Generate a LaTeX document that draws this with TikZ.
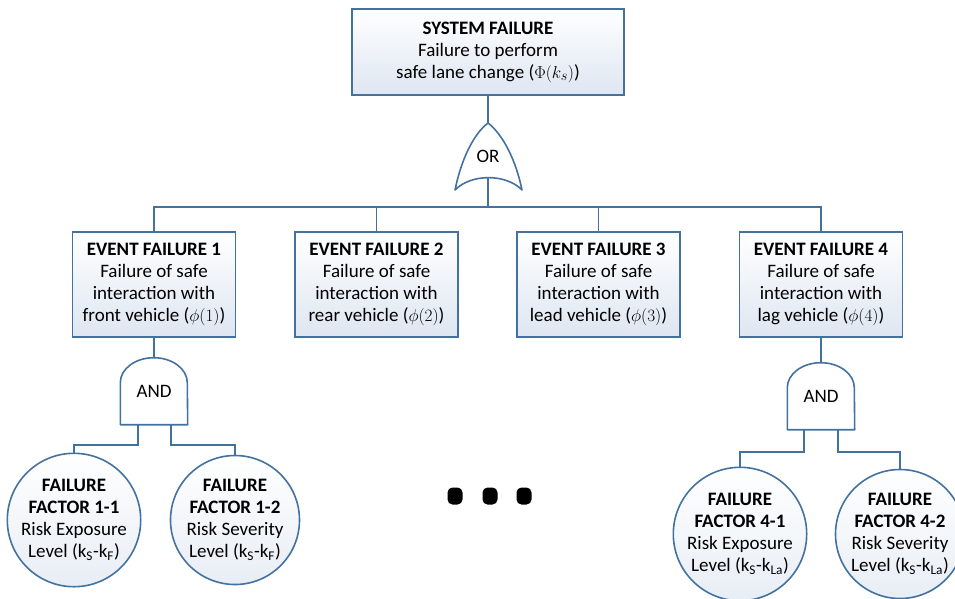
\documentclass[tikz,border=0pt]{standalone}
\usepackage{fontspec}
\setmainfont{Carlito}
\usetikzlibrary{positioning}

\definecolor{lineblue}{RGB}{68,114,160}
\definecolor{boxshade}{RGB}{222,230,241}

\tikzset{
  wire/.style={draw=lineblue, line width=1.6pt},
  gateline/.style={draw=lineblue, line width=1.6pt, line join=round},
  topbox/.style={draw=lineblue, line width=1.6pt, top color=white, bottom color=boxshade,
    minimum width=272pt, minimum height=86pt, align=center, inner sep=2pt},
  evbox/.style={draw=lineblue, line width=1.6pt, top color=white, bottom color=boxshade,
    minimum width=163pt, minimum height=105pt, align=center, inner sep=2pt},
  factor/.style={circle, draw=lineblue, line width=1.6pt, top color=white, bottom color=boxshade!70,
    minimum size=129pt, align=center, inner sep=0pt},
  gatetext/.style={minimum size=67pt, inner sep=0pt},
  dotmark/.style={fill=black, rounded corners=5pt, minimum width=15pt, minimum height=17pt, inner sep=0pt}
}

% and gate outline round a gatetext node
\newcommand{\drawand}[1]{%
  \draw[gateline] (#1.south west) -- ++(0,42)
    arc[start angle=180, end angle=0, x radius=33.5, y radius=25] -- (#1.south east) -- cycle;}

\begin{document}
\begin{tikzpicture}[x=1pt, y=1pt, font=\fontsize{19}{22}\selectfont]
  \useasboundingbox (0,0) rectangle (955,-598);

  % top event
  \node[topbox] (sys) at (488,-52) {\textbf{SYSTEM FAILURE}\\Failure to perform\\safe lane change ($\Phi(k_s)$)};

  % or gate
  \node[gatetext] (orgate) at (488,-156.5) {OR};
  \draw[gateline, shift={(orgate.center)}] (-33,-33.5) .. controls (-27,-4) and (-15,22) .. (0,33.5)
    .. controls (15,22) and (28,-4) .. (34,-33.5)
    .. controls (18,-17) and (-17,-17) .. cycle;
  \coordinate (orout) at ([yshift=12pt]orgate.south);
  \coordinate (bus) at (488,-207);

  % event failures
  \node[evbox] (ev1) at (154,-284.5) {\textbf{EVENT FAILURE 1}\\Failure of safe\\interaction with\\front vehicle ($\phi(1)$)};
  \node[evbox] (ev2) at (376.5,-284.5) {\textbf{EVENT FAILURE 2}\\Failure of safe\\interaction with\\rear vehicle ($\phi(2)$)};
  \node[evbox] (ev3) at (598.5,-284.5) {\textbf{EVENT FAILURE 3}\\Failure of safe\\interaction with\\lead vehicle ($\phi(3)$)};
  \node[evbox] (ev4) at (821,-284.5) {\textbf{EVENT FAILURE 4}\\Failure of safe\\interaction with\\lag vehicle ($\phi(4)$)};

  % and gates
  \node[gatetext] (and1) at (154,-391) {AND};
  \drawand{and1}
  \node[gatetext] (and4) at (821,-396) {AND};
  \drawand{and4}

  % failure factors
  \node[factor] (f11) at (74,-520) {\textbf{FAILURE}\\\textbf{FACTOR 1-1}\\Risk Exposure\\Level (k\textsubscript{S}-k\textsubscript{F})};
  \node[factor] (f12) at (235,-520) {\textbf{FAILURE}\\\textbf{FACTOR 1-2}\\Risk Severity\\Level (k\textsubscript{S}-k\textsubscript{F})};
  \node[factor] (f41) at (740,-534) {\textbf{FAILURE}\\\textbf{FACTOR 4-1}\\Risk Exposure\\Level (k\textsubscript{S}-k\textsubscript{La})};
  \node[factor] (f42) at (900,-534) {\textbf{FAILURE}\\\textbf{FACTOR 4-2}\\Risk Severity\\Level (k\textsubscript{S}-k\textsubscript{La})};

  \node[dotmark] (dot1) at (455,-496) {};
  \node[dotmark] (dot2) at (490,-496) {};
  \node[dotmark] (dot3) at (524,-496) {};

  % connectors
  \draw[wire] (sys.south) -- (orgate.north);
  \draw[wire] (orout) -- (bus);
  \foreach \e in {ev1,ev2,ev3,ev4}
    \draw[wire] (bus) -| (\e.north);
  \draw[wire] (ev1.south) -- (and1.north);
  \draw[wire] (ev4.south) -- (and4.north);
  \draw[wire] ([xshift=-16pt]and1.south) -- ++(0,-20) -| (f11.north);
  \draw[wire] ([xshift=17pt]and1.south) -- ++(0,-20) -| (f12.north);
  \draw[wire] ([xshift=-17pt]and4.south) -- ++(0,-22) -| (f41.north);
  \draw[wire] ([xshift=17pt]and4.south) -- ++(0,-22) -| (f42.north);
\end{tikzpicture}
\end{document}
